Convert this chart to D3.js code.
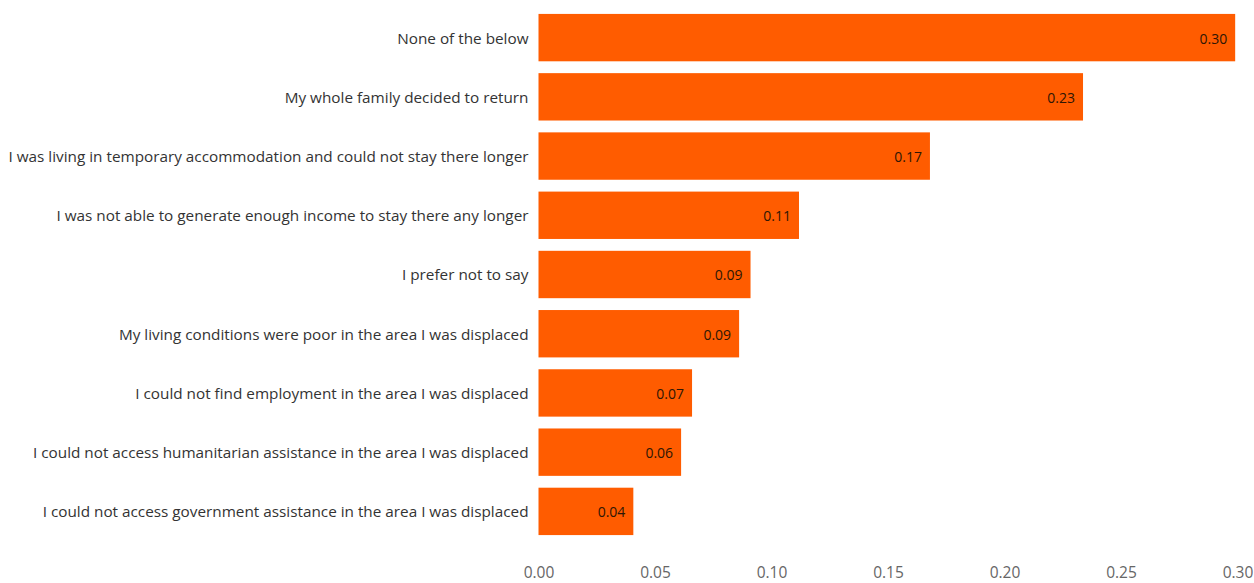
<!DOCTYPE html>
<html>
<head>
<meta charset="utf-8">
<script src="https://cdn.jsdelivr.net/npm/d3@7"></script>
<style>
  html, body { margin: 0; padding: 0; background: #ffffff; }
  svg { display: block; font-family: "Open Sans", "Noto Sans", sans-serif; }
</style>
</head>
<body>
<svg id="chart" width="1254" height="583"></svg>
<script>
// Reasons for returning, share of respondents
const reasons = [
  "None of the below",
  "My whole family decided to return",
  "I was living in temporary accommodation and could not stay there longer",
  "I was not able to generate enough income to stay there any longer",
  "I prefer not to say",
  "My living conditions were poor in the area I was displaced",
  "I could not find employment in the area I was displaced",
  "I could not access humanitarian assistance in the area I was displaced",
  "I could not access government assistance in the area I was displaced"
];
const shares = [0.299, 0.2337, 0.168, 0.1118, 0.0910, 0.0861, 0.0659, 0.0612, 0.0407];
const xTicks = [0.00, 0.05, 0.10, 0.15, 0.20, 0.25, 0.30];

const FONT = "'Open Sans', 'Noto Sans', sans-serif";
const svg = d3.select("#chart");
const margin = { left: 538.5, right: 16.5, top: 8, bottom: 42 };
const W = 1254, H = 583;

const x = d3.scaleLinear().domain([0, 0.30]).range([margin.left, W - margin.right]);
const y = d3.scaleBand().domain(reasons).range([margin.top, H - margin.bottom])
  .paddingInner(0.2).paddingOuter(0.1);

const fmt = d3.format(".2f");
const rows = reasons.map((r, i) => ({ reason: r, value: shares[i] }));

// bars
svg.append("g").selectAll("rect").data(rows).join("rect")
  .attr("x", x(0))
  .attr("y", d => y(d.reason))
  .attr("width", d => x(d.value) - x(0))
  .attr("height", y.bandwidth())
  .attr("fill", "#ff5c00");

// value labels inside bar ends
svg.append("g").selectAll("text").data(rows).join("text")
  .attr("x", d => x(d.value) - 8)
  .attr("y", d => y(d.reason) + y.bandwidth() / 2 + 1)
  .attr("dy", "0.35em")
  .attr("text-anchor", "end")
  .attr("font-family", FONT)
  .attr("font-size", 14)
  .attr("fill", "#2e1605")
  .text(d => fmt(d.value));

// category axis
const yAxis = svg.append("g")
  .attr("transform", `translate(${margin.left - 10},1)`)
  .call(d3.axisLeft(y).tickSize(0).tickPadding(0))
  .attr("font-family", FONT)
  .attr("font-size", 15.3);
yAxis.select(".domain").remove();
yAxis.selectAll("text").attr("fill", "#333");

// value axis
const xAxis = svg.append("g")
  .attr("transform", `translate(0,${H - 10})`)
  .call(d3.axisBottom(x).tickValues(xTicks).tickFormat(fmt).tickSize(0).tickPadding(0))
  .attr("font-family", FONT)
  .attr("font-size", 15.5);
xAxis.select(".domain").remove();
xAxis.selectAll("text").attr("fill", "#666").attr("dy", "0.35em");
</script>
</body>
</html>
